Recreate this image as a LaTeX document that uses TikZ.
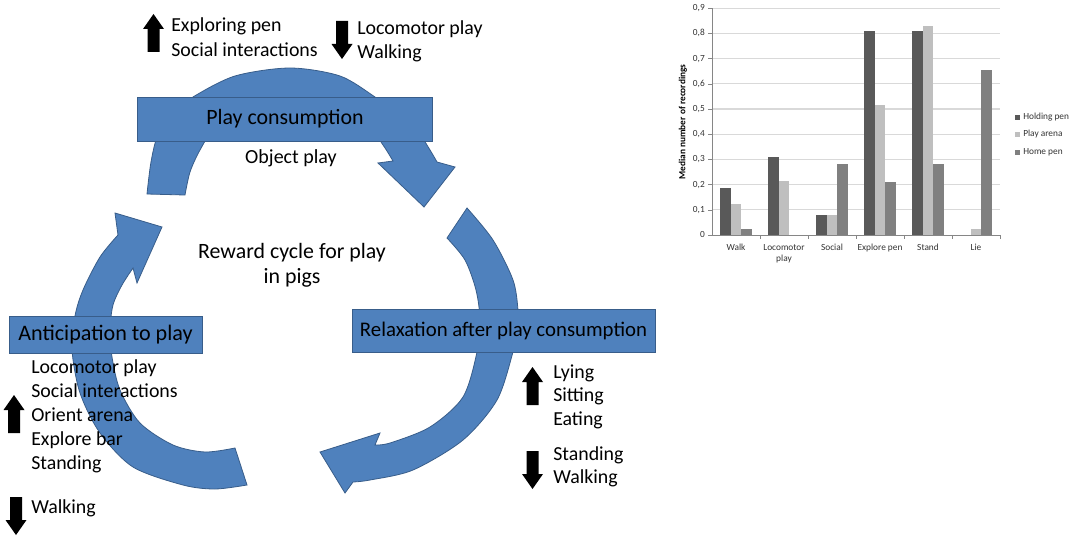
\documentclass[tikz,border=0pt]{standalone}
\usepackage{fontspec}
\setmainfont{Carlito}
\definecolor{cycleblue}{RGB}{79,129,189}
\definecolor{cycleedge}{RGB}{56,93,138}
\definecolor{holdingpen}{RGB}{89,89,89}
\definecolor{playarena}{RGB}{191,191,191}
\definecolor{homepen}{RGB}{128,128,128}
\definecolor{gridgrey}{RGB}{217,217,217}
\definecolor{axisgrey}{RGB}{134,134,134}

\tikzset{
  ring/.style={fill=cycleblue, draw=cycleedge, line width=0.6pt},
  stagebox/.style={fill=cycleblue, draw=cycleedge, line width=0.4pt, inner sep=0pt, font=\fontsize{16.4}{19}\selectfont},
  behav/.style={anchor=base west, inner sep=0pt, font=\fontsize{14.9}{18}\selectfont},
  chartlabel/.style={font=\fontsize{7}{8.25}\selectfont, text=black!80, inner sep=0pt},
  upblock/.pic={\fill (-6,0) -- (-6,-23) -- (-10.5,-23) -- (0,-38) -- (10.5,-23) -- (6,-23) -- (6,0) -- cycle;},
  downblock/.pic={\fill (-6,0) -- (-6,23) -- (-10.5,23) -- (0,38) -- (10.5,23) -- (6,23) -- (6,0) -- cycle;}
}

\begin{document}
\begin{tikzpicture}[x=0.75pt, y=-0.75pt]
\fill[white] (0,0) rectangle (1084,542);

% the three curved arrows
\filldraw[ring] plot[smooth] coordinates {(147,194) (151,162) (158,135) (175,112) (193,97) (235,76) (290,68) (340,76) (375,97) (400,115) (420,135) (430,150) (437,162)}
  -- (455,167) -- (424,207) -- (378,163)
  -- plot[smooth] coordinates {(393,161) (383,145) (370,130) (330,112) (290,106) (245,112) (215,128) (200,150) (190,172) (185,195)}
  -- cycle;
\filldraw[ring] plot[smooth] coordinates {(467,208) (493,240) (513,280) (518,310) (518,330) (513,352) (497,400) (463,440) (413,470) (370,480) (353,482)}
  -- (345,493) -- (320,452) -- (380,433)
  -- plot[smooth] coordinates {(375,445) (390,443) (430,427) (463,397) (477,352) (480,320) (476,290) (465,260) (447,238)}
  -- cycle;
\filldraw[ring] plot[smooth] coordinates {(247,485) (215,489) (183,485) (133,467) (100,433) (80,393) (72,350) (75,316) (83,290) (100,257) (118,235)}
  -- (115,213) -- (162,227) -- (137,283)
  -- plot[smooth] coordinates {(133,268) (122,285) (113,305) (110,330) (112,357) (120,390) (140,423) (173,445) (205,452) (235,448)}
  -- cycle;

\node[stagebox, minimum width=221pt, minimum height=33pt] (play) at (285,119) {Play consumption};
\node[stagebox, minimum width=227pt, minimum height=32pt, font=\fontsize{15.6}{18}\selectfont] (relax) at (503.5,330.5) {Relaxation after play consumption};
\node[stagebox, minimum width=145pt, minimum height=28pt, font=\fontsize{16.6}{19}\selectfont] (antic) at (105.5,334.5) {Anticipation to play};

\node[font=\fontsize{15}{18}\selectfont] (object) at (291,158) {Object play};
\node[font=\fontsize{16.4}{18.75}\selectfont, align=center] (title) at (292,265.5) {Reward cycle for play\\in pigs};

% behaviours going up or down
\pic at (153.5,52) {upblock};
\node[behav] (top1) at (171,32) {Exploring pen};
\node[behav] (top2) at (171,56) {Social interactions};
\pic at (342,21) {downblock};
\node[behav] (top3) at (357,35) {Locomotor play};
\node[behav] (top4) at (357,59) {Walking};

\pic at (14,433) {upblock};
\foreach \txt [count=\i from 0] in {Locomotor play, Social interactions, Orient arena, Explore bar, Standing}
  \node[behav] (pre\i) at (31,373+24*\i) {\txt};
\pic at (16,497) {downblock};
\node[behav] (pre5) at (31,513) {Walking};

\pic at (532.5,405) {upblock};
\foreach \txt [count=\i from 0] in {Lying, Sitting, Eating}
  \node[behav] (post\i) at (553,378+23.5*\i) {\txt};
\pic at (532.5,451) {downblock};
\node[behav] (post3) at (553,460) {Standing};
\node[behav] (post4) at (553,483.5) {Walking};

% bar chart
\foreach \k in {1,...,9}
  \draw[gridgrey, line width=0.8pt] (712,235-25.2*\k) -- (1000,235-25.2*\k);
\foreach \k in {0,...,9} {
  \draw[axisgrey] (708,235-25.2*\k) -- (712,235-25.2*\k);
  \node[chartlabel, anchor=east] (tick\k) at (705,235-25.2*\k) {\ifnum\k=0 0\else 0,\k\fi};
}
\foreach \lab/\a/\b/\c [count=\i from 0] in {Walk/0.185/0.125/0.025, {Locomotor\\play}/0.31/0.215/0, Social/0.08/0.08/0.28, Explore pen/0.81/0.515/0.21, Stand/0.81/0.83/0.28, Lie/0/0.025/0.655} {
  \pgfmathsetmacro\xs{712+48*\i+8.3}
  \fill[holdingpen] (\xs,235) rectangle ++(10.4,-252*\a);
  \fill[playarena] (\xs+10.4,235) rectangle ++(10.4,-252*\b);
  \fill[homepen] (\xs+20.8,235) rectangle ++(10.4,-252*\c);
  \node[chartlabel, align=center, anchor=north] (cat\i) at (736+48*\i,244) {\lab};
  \draw[axisgrey] (760+48*\i,235) -- (760+48*\i,239);
}
\draw[axisgrey] (712,235) -- (1000,235);
\draw[axisgrey] (712,235) -- (712,8);
\node[chartlabel, font=\fontsize{7}{8}\selectfont\bfseries, text=black, rotate=90] (ytitle) at (683,122) {Median number of recordings};

\fill[holdingpen] (1015,114.5) rectangle ++(5,5);
\node[chartlabel, anchor=west] (leg1) at (1023,117) {Holding pen};
\fill[playarena] (1015,131.5) rectangle ++(5,5);
\node[chartlabel, anchor=west] (leg2) at (1023,134) {Play arena};
\fill[homepen] (1015,149.5) rectangle ++(5,5);
\node[chartlabel, anchor=west] (leg3) at (1023,152) {Home pen};
\end{tikzpicture}
\end{document}
